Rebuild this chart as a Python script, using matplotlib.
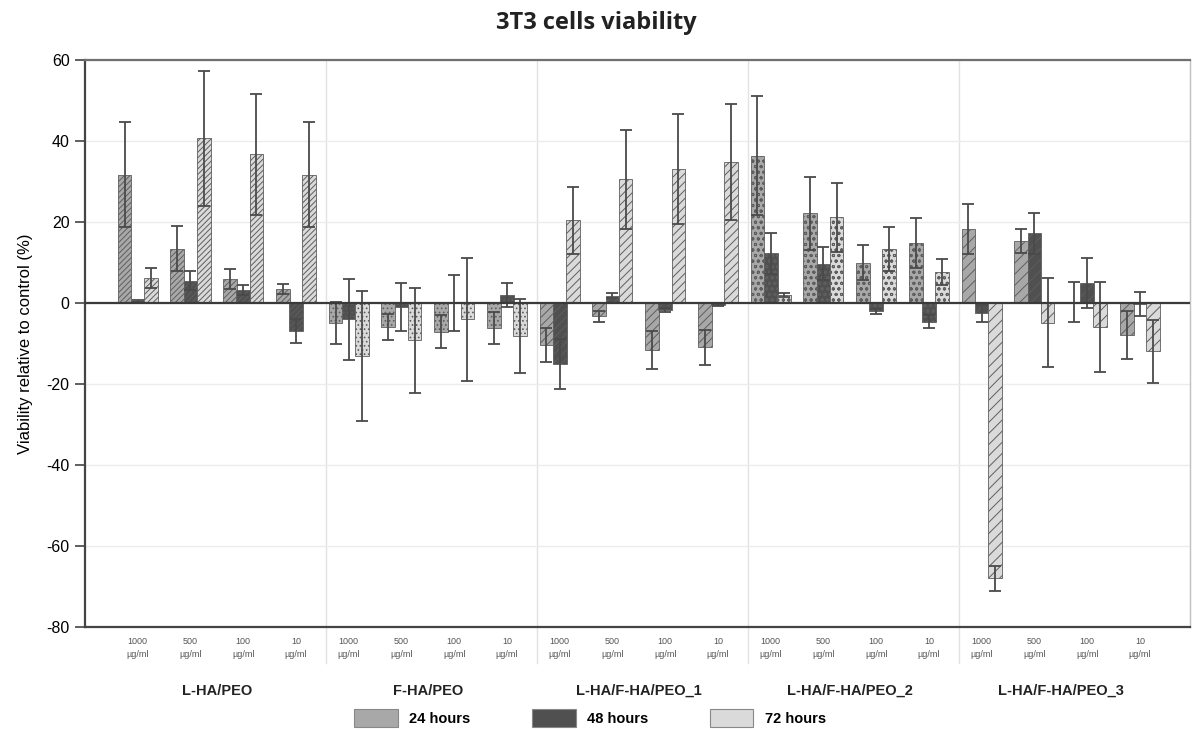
import matplotlib
matplotlib.use("Agg")
import matplotlib.pyplot as plt
from matplotlib.patches import Patch
import numpy as np

plt.rcParams["font.family"] = ["Liberation Sans", "DejaVu Sans"]
plt.rcParams["hatch.linewidth"] = 0.7
plt.rcParams["axes.unicode_minus"] = False

# data
groups = ["L-HA/PEO", "F-HA/PEO", "L-HA/F-HA/PEO_1", "L-HA/F-HA/PEO_2", "L-HA/F-HA/PEO_3"]
concentrations = ["1000", "500", "100", "10"]
times = ["24 hours", "48 hours", "72 hours"]

mean_24h = [31.7, 13.4, 5.9, 3.4, -5.0, -6.0, -7.1, -6.2, -10.4, -3.3, -11.7, -11.0,
            36.4, 22.1, 9.9, 14.7, 18.2, 15.3, 0.2, -7.9]
err_24h = [13.0, 5.5, 2.5, 1.2, 5.2, 3.2, 4.1, 4.0, 4.3, 1.3, 4.7, 4.4,
           14.8, 9.1, 4.3, 6.2, 6.2, 3.0, 5.0, 6.0]
mean_48h = [0.5, 5.5, 3.2, -7.0, -4.0, -1.0, 0.0, 2.0, -15.1, 1.8, -1.7, -0.5,
            12.2, 9.7, -2.1, -4.7, -2.6, 17.2, 5.0, -0.3]
err_48h = [0.3, 2.3, 1.3, 3.0, 10.0, 6.0, 7.0, 3.0, 6.2, 0.7, 0.5, 0.3,
           5.1, 4.0, 0.6, 1.6, 2.2, 5.1, 6.2, 3.0]
mean_72h = [6.1, 40.6, 36.7, 31.7, -13.1, -9.2, -4.1, -8.1, 20.4, 30.5, 33.0, 34.8,
            1.9, 21.1, 13.4, 7.6, -68.0, -4.9, -5.9, -12.0]
err_72h = [2.5, 16.6, 15.0, 13.0, 16.0, 13.0, 15.2, 9.1, 8.3, 12.2, 13.6, 14.3,
           0.5, 8.6, 5.4, 3.2, 3.1, 11.0, 11.1, 7.8]

means = [mean_24h, mean_48h, mean_72h]
errs = [err_24h, err_48h, err_72h]
face_colors = ["#a8a8a8", "#505050", "#dadada"]
group_hatches = ["//////", "....", "////", "ooo", "///"]

fig = plt.figure(figsize=(11.92, 7.31), dpi=100)
ax = fig.add_axes([0.0713, 0.1425, 0.927, 0.7755])

n_conc = len(concentrations)
x = np.arange(len(groups) * n_conc)
width = 0.26
offsets = [-0.25, 0.0, 0.25]

for t in range(len(times)):
    for g in range(len(groups)):
        sl = slice(g * n_conc, (g + 1) * n_conc)
        ax.bar(x[sl] + offsets[t], means[t][sl], width, color=face_colors[t],
               edgecolor="#5e5e5e", linewidth=0.6, hatch=group_hatches[g], zorder=2)
    ax.errorbar(x + offsets[t], means[t], yerr=errs[t], fmt="none", ecolor="#4a4a4a",
                elinewidth=1.3, capsize=4, capthick=1.3, zorder=3)

ax.axhline(0, color="#3a3a3a", linewidth=1.6, zorder=4)

ax.set_xlim(-1.0, 19.95)
ax.set_ylim(-80, 60)
ax.set_yticks(np.arange(-80, 61, 20))
ax.yaxis.grid(True, color="#ececec", linewidth=1.0)
ax.set_axisbelow(True)
ax.tick_params(axis="y", labelsize=11.5, length=7, width=1.2, color="#444444", pad=4)
ax.tick_params(axis="x", length=0)
ax.set_xticks([])

for side in ["left", "bottom"]:
    ax.spines[side].set_color("#444444")
    ax.spines[side].set_linewidth(1.6)
ax.spines["top"].set_color("#707070")
ax.spines["top"].set_linewidth(1.6)
ax.spines["right"].set_color("#c0c0c0")
ax.spines["right"].set_linewidth(1.0)

ax.set_ylabel("Viability relative to control (%)", fontsize=12, labelpad=10)

# group separators, extended into the tick label area
for g in range(1, len(groups)):
    xs = g * n_conc - 0.43
    ax.plot([xs, xs], [60, -89], color="#e2e2e2", linewidth=1.0, zorder=0, clip_on=False)

# concentration labels and group names
for i in x:
    ax.text(i, -82.5, concentrations[i % n_conc] + "\n\u00b5g/ml", ha="center", va="top",
            fontsize=6.5, color="#555555", linespacing=1.6)
for g, name in enumerate(groups):
    ax.text(g * n_conc + 1.5, -94, name, ha="center", va="top", fontsize=10.5,
            fontweight="bold", color="#222222")

handles = [Patch(facecolor=c, edgecolor="#888888", linewidth=0.8) for c in face_colors]
fig.legend(handles, times, loc="lower center", bbox_to_anchor=(0.495, -0.012), ncol=3,
           frameon=False, handlelength=3.0, handleheight=1.5, columnspacing=4.2,
           prop={"weight": "bold", "size": 10.5})

fig.suptitle("3T3 cells viability", fontsize=17, fontweight="bold", y=0.985,
             family=["Open Sans", "DejaVu Sans"], color="#222222")

fig.savefig("out.png", dpi=100)
